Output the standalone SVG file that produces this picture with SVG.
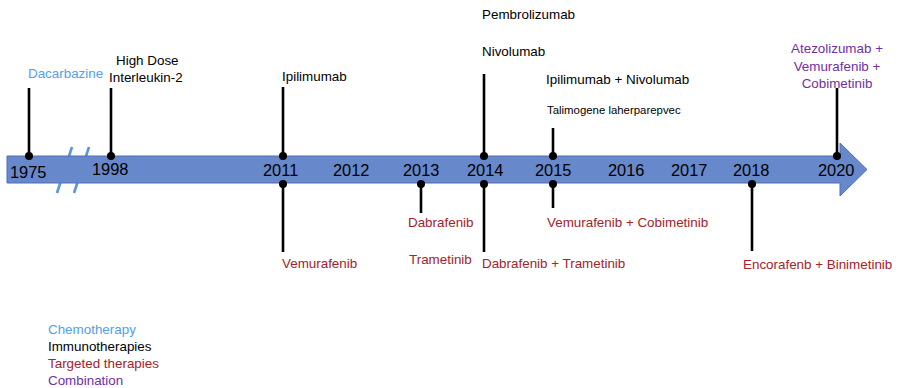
<svg xmlns="http://www.w3.org/2000/svg" width="900" height="388" viewBox="0 0 900 388">
<style>
text{font-family:"Liberation Sans",Arial,sans-serif;font-size:13.4px;fill:#000}
.yr{font-size:16.4px}
.chemo{fill:#55A0EA}
.targ{fill:#A3232A}
.comb{fill:#7030A0}
.small{font-size:11.4px}
.tick{stroke:#000;stroke-width:2.6;fill:none}
.dot{fill:#000}
.brk{stroke:#5B95E0;stroke-width:2.6}
</style>
<rect width="900" height="388" fill="#fff"/>
<g id="timeline">
<line class="brk" x1="72" y1="147" x2="57" y2="193"/>
<line class="brk" x1="89" y1="147" x2="74" y2="193"/>
<polygon points="7,156 840,156 840,143 867,169.5 840,196 840,183 7,183" fill="#6788CA" stroke="#4F6FB6" stroke-width="1"/>
<text class="yr" x="10" y="178">1975</text>
<text class="yr" x="92" y="175">1998</text>
<text class="yr" x="263" y="176">2011</text>
<text class="yr" x="333" y="176">2012</text>
<text class="yr" x="403" y="176">2013</text>
<text class="yr" x="467" y="176">2014</text>
<text class="yr" x="535" y="176">2015</text>
<text class="yr" x="608" y="176">2016</text>
<text class="yr" x="671" y="176">2017</text>
<text class="yr" x="733" y="176">2018</text>
<text class="yr" x="818" y="176">2020</text>
</g>
<g id="connectors">
<line class="tick" x1="29" y1="88" x2="29" y2="156"/><circle class="dot" cx="29" cy="156" r="4"/>
<line class="tick" x1="111" y1="88" x2="111" y2="156"/><circle class="dot" cx="111" cy="156" r="4"/>
<line class="tick" x1="283" y1="87" x2="283" y2="156"/><circle class="dot" cx="283" cy="156" r="4"/>
<line class="tick" x1="283" y1="184" x2="283" y2="252"/><circle class="dot" cx="283" cy="184" r="4"/>
<line class="tick" x1="421" y1="184" x2="421" y2="213"/><circle class="dot" cx="421" cy="184" r="4"/>
<line class="tick" x1="484" y1="74" x2="484" y2="156"/><circle class="dot" cx="484" cy="156" r="4"/>
<line class="tick" x1="484" y1="184" x2="484" y2="252"/><circle class="dot" cx="484" cy="184" r="4"/>
<line class="tick" x1="553" y1="128" x2="553" y2="156"/><circle class="dot" cx="553" cy="156" r="4"/>
<line class="tick" x1="553" y1="184" x2="553" y2="208"/><circle class="dot" cx="553" cy="184" r="4"/>
<line class="tick" x1="752" y1="184" x2="752" y2="251"/><circle class="dot" cx="752" cy="184" r="4"/>
<line class="tick" x1="837" y1="88" x2="837" y2="156"/><circle class="dot" cx="837" cy="156" r="4"/>
</g>
<g id="dacarbazine"><text class="chemo" x="28" y="78">Dacarbazine</text></g>
<g id="il2"><text x="116" y="65">High Dose</text><text x="109" y="82">Interleukin-2</text></g>
<g id="ipilimumab"><text x="282" y="81">Ipilimumab</text></g>
<g id="pembrolizumab"><text x="482" y="19">Pembrolizumab</text></g>
<g id="nivolumab"><text x="482" y="56">Nivolumab</text></g>
<g id="ipi-nivo"><text x="546" y="84">Ipilimumab + Nivolumab</text></g>
<g id="tvec"><text class="small" x="547" y="114">Talimogene laherparepvec</text></g>
<g id="atezo" text-anchor="middle"><text class="comb" x="837" y="53">Atezolizumab +</text><text class="comb" x="837" y="71">Vemurafenib +</text><text class="comb" x="837" y="88">Cobimetinib</text></g>
<g id="vemurafenib"><text class="targ" x="282" y="268">Vemurafenib</text></g>
<g id="dabrafenib"><text class="targ" x="408" y="227">Dabrafenib</text></g>
<g id="trametinib"><text class="targ" x="409" y="264">Trametinib</text></g>
<g id="dab-tram"><text class="targ" x="482" y="268">Dabrafenib + Trametinib</text></g>
<g id="vem-cobi"><text class="targ" x="547" y="227">Vemurafenib + Cobimetinib</text></g>
<g id="enco-bini"><text class="targ" x="743" y="269">Encorafenb + Binimetinib</text></g>
<g id="legend">
<text class="chemo" x="48" y="334">Chemotherapy</text>
<text x="48" y="351">Immunotherapies</text>
<text class="targ" x="48" y="368">Targeted therapies</text>
<text class="comb" x="48" y="384.5">Combination</text>
</g>
</svg>
